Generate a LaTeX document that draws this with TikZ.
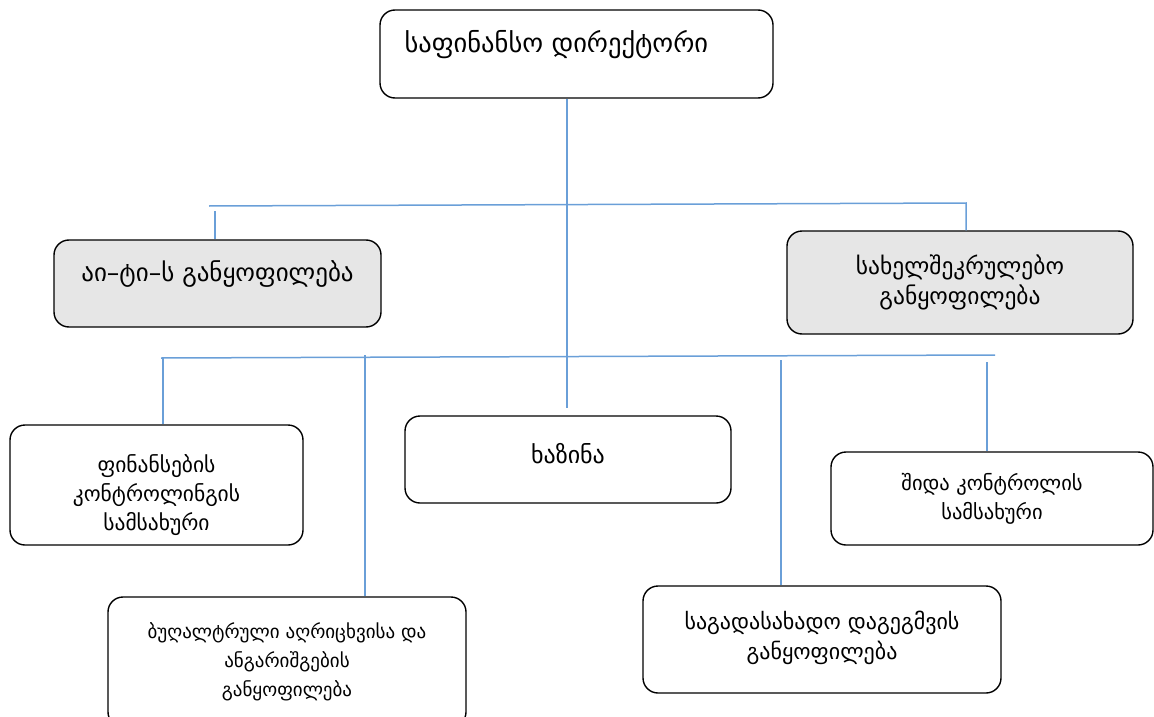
\documentclass[tikz,border=0pt]{standalone}
\usepackage{fontspec}
\newfontfamily\geofont{DejaVu Sans}
\usepackage{xcolor}
\usetikzlibrary{positioning}

\definecolor{linkblue}{HTML}{6A9FD8}
\definecolor{unitgray}{HTML}{E6E6E6}

\newcommand{\geosize}[2]{\geofont\fontsize{#1}{#2}\selectfont}

\tikzset{
  unit/.style={draw, line width=1.4pt, rounded corners=15pt, align=center,
    inner sep=0pt, font=\geosize{20}{29}},
  grayunit/.style={unit, fill=unitgray},
  link/.style={draw=linkblue, line width=1.5pt},
}

\begin{document}
\begin{tikzpicture}[>=stealth, x=1pt, y=-1pt]
  \useasboundingbox (0,0) rectangle (1154,717);
  \clip (0,0) rectangle (1154,717);

  % Director
  \node[unit, minimum width=393pt, minimum height=88pt] (dir) at (576.5,54) {};
  \node[anchor=west, inner sep=0pt, font=\geosize{26.5}{30}]
      (dirtext) at ([xshift=25pt,yshift=9pt]dir.west) {საფინანსო დირექტორი};

  % Second level
  \node[grayunit, minimum width=327pt, minimum height=87pt, font=\geosize{25}{30}]
      (it) at (217.5,283.5) {აი–ტი–ს განყოფილება\\[-6pt]};
  \node[grayunit, minimum width=346pt, minimum height=103pt, font=\geosize{23.5}{30}]
      (proc) at (960,282.5) {სახელშეკრულებო\\განყოფილება};

  % Third level
  \node[unit, minimum width=293pt, minimum height=120pt, font=\geosize{21.5}{29}]
      (fin) at (156.5,485) {ფინანსების\\კონტროლინგის\\სამსახური\\[-43pt]};
  \node[unit, minimum width=326pt, minimum height=87pt, font=\geosize{24}{30}]
      (trs) at (568,459.5) {ხაზინა\\[-18pt]};
  \node[unit, minimum width=322pt, minimum height=93pt, font=\geosize{20.5}{29}]
      (int) at (992,498.5) {შიდა კონტროლის\\სამსახური};
  \node[unit, minimum width=358pt, minimum height=130pt, font=\geosize{19}{29}]
      (acc) at (287,662) {ბუღალტრული აღრიცხვისა და\\ანგარიშგების\\განყოფილება};
  \node[unit, minimum width=358pt, minimum height=107pt, font=\geosize{22}{30}]
      (tax) at (822,639.5) {საგადასახადო დაგეგმვის\\განყოფილება\\[-21pt]};

  % Trunk from the director
  \coordinate (trunk) at (567,408);
  \draw[link] (dir.south -| trunk) -- (trunk);

  % Upper bus
  \coordinate (ubusL) at (209,206);
  \coordinate (ubusR) at (966,203);
  \draw[link] (ubusL) -- (ubusR) -- (ubusR |- proc.north);
  \coordinate (utickA) at (215,211);
  \draw[link] (utickA) -- (utickA |- it.north);

  % Lower bus
  \coordinate (lbusL) at (161,358);
  \coordinate (lbusR) at (995,355);
  \draw[link] (lbusL) -- (lbusR);
  \coordinate (ltickA) at (163,357);
  \coordinate (ltickB) at (365,355);
  \coordinate (ltickC) at (781,360);
  \coordinate (ltickD) at (987,362);
  \draw[link] (ltickA) -- (ltickA |- fin.north);
  \draw[link] (ltickB) -- (ltickB |- acc.north);
  \draw[link] (ltickC) -- (ltickC |- tax.north);
  \draw[link] (ltickD) -- (ltickD |- int.north);
\end{tikzpicture}
\end{document}
